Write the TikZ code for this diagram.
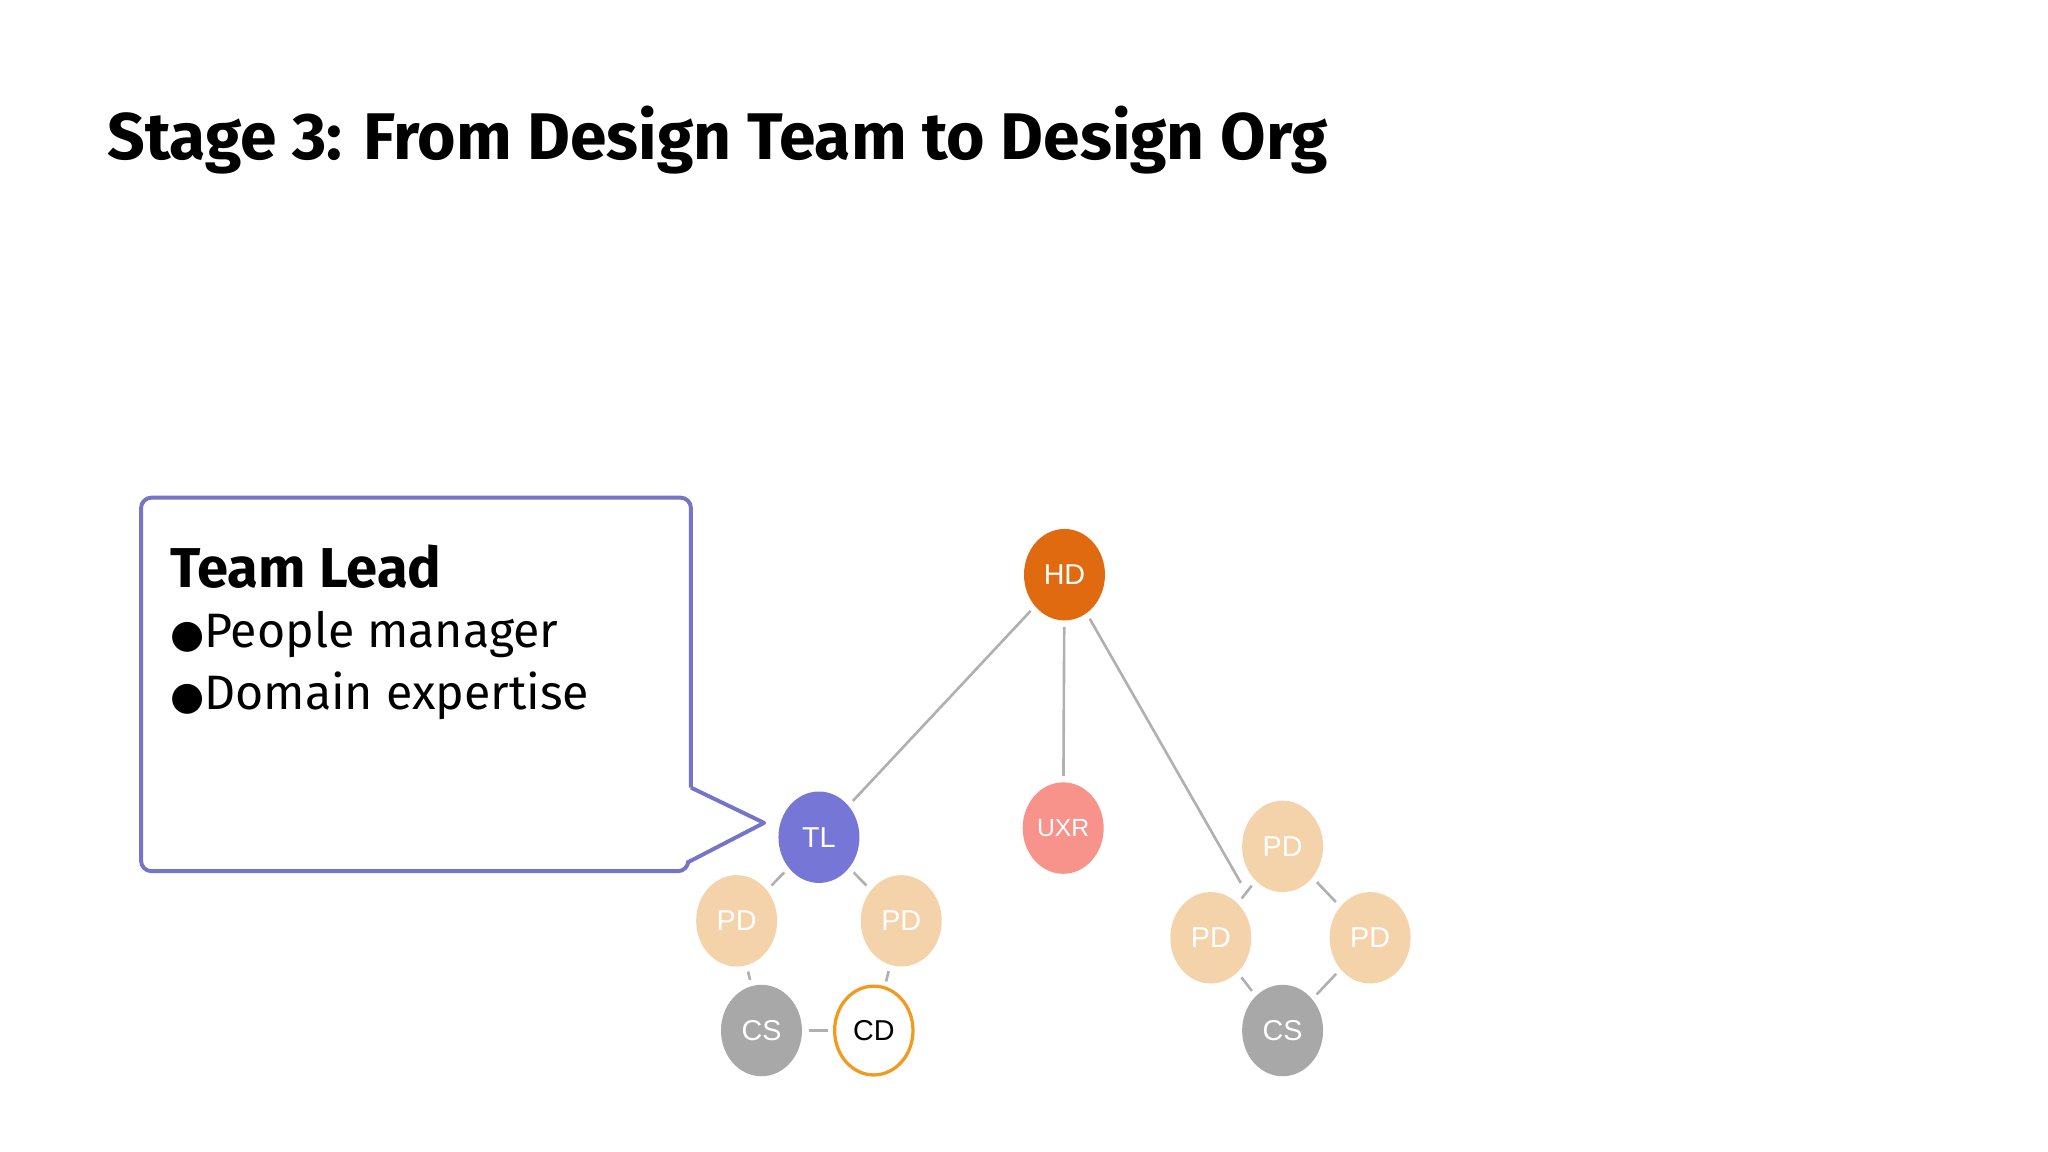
\documentclass[tikz,border=0pt]{standalone}
\usepackage{fontspec}
\setmainfont{Fira Sans}
\newfontfamily\nodefont{Liberation Sans}
\newfontfamily\dejavu{DejaVu Sans}
\usetikzlibrary{shapes.geometric}
\definecolor{hdc}{HTML}{E06A10}
\definecolor{tlc}{HTML}{7676D6}
\definecolor{uxc}{HTML}{F7938A}
\definecolor{pdc}{HTML}{F5D3AA}
\definecolor{csc}{HTML}{A8A8A8}
\definecolor{cdc}{HTML}{F09A20}
\definecolor{boxc}{HTML}{7474C8}
\definecolor{linec}{HTML}{B0B0B0}
\begin{document}
\begin{tikzpicture}[x=1pt,y=-1pt,
  person/.style={ellipse,minimum width=62pt,minimum height=70pt,inner sep=0pt,outer sep=5pt,text=white,font=\nodefont\fontsize{22}{22}\selectfont},
  conn/.style={draw=linec,line width=2pt}]
\useasboundingbox (0,0) rectangle (1568,882);
\node[anchor=base west,inner sep=0,font=\fontsize{50.5}{50.5}\selectfont\bfseries] (title) at (82,122) {Stage 3: From Design Team to Design Org};
\draw[boxc,line width=3pt,rounded corners=8pt] (529,603) -- (529,381) -- (108,381) -- (108,667) -- (527,667) -- (527,660);
\draw[boxc,line width=3pt,line join=round] (527,660) -- (585,630) -- (529,603);
\node[anchor=base west,inner sep=0,font=\fontsize{43}{43}\selectfont\bfseries] (tl1) at (130,450) {Team Lead};
\node[anchor=base west,inner sep=0,font=\fontsize{37}{37}\selectfont] (tl2) at (130,496) {{\dejavu\fontsize{30}{30}\selectfont●}People manager};
\node[anchor=base west,inner sep=0,font=\fontsize{37}{37}\selectfont] (tl3) at (130,543) {{\dejavu\fontsize{30}{30}\selectfont●}Domain expertise};
\node[person,fill=hdc] (hd) at (815,440) {HD};
\node[person,fill=tlc] (tl) at (627,641) {TL};
\node[person,fill=uxc,font=\nodefont\fontsize{19}{19}\selectfont] (ux) at (814,634) {UXR};
\node[person,fill=pdc] (p1) at (564,705) {PD};
\node[person,fill=pdc] (p2) at (690,705) {PD};
\node[person,fill=csc] (c1) at (583,789) {CS};
\node[person,draw=cdc,line width=2.5pt,fill=white,text=black,minimum width=60pt,minimum height=68pt] (cd) at (669,789) {CD};
\node[person,fill=pdc] (q1) at (982,648) {PD};
\node[person,fill=pdc] (q2) at (927,718) {PD};
\node[person,fill=pdc] (q3) at (1049,718) {PD};
\node[person,fill=csc] (c2) at (982,789) {CS};
\coordinate (rj) at (950,676);
\draw[conn] (hd) -- (tl);
\draw[conn] (hd) -- (ux);
\draw[conn] (hd) -- (rj);
\draw[conn] (tl) -- (p1);
\draw[conn] (tl) -- (p2);
\draw[conn] (p1) -- (c1);
\draw[conn] (p2) -- (cd);
\draw[conn] (c1) -- (cd);
\draw[conn] (q1) -- (q2);
\draw[conn] (q1) -- (q3);
\draw[conn] (q2) -- (c2);
\draw[conn] (q3) -- (c2);
\end{tikzpicture}
\end{document}
